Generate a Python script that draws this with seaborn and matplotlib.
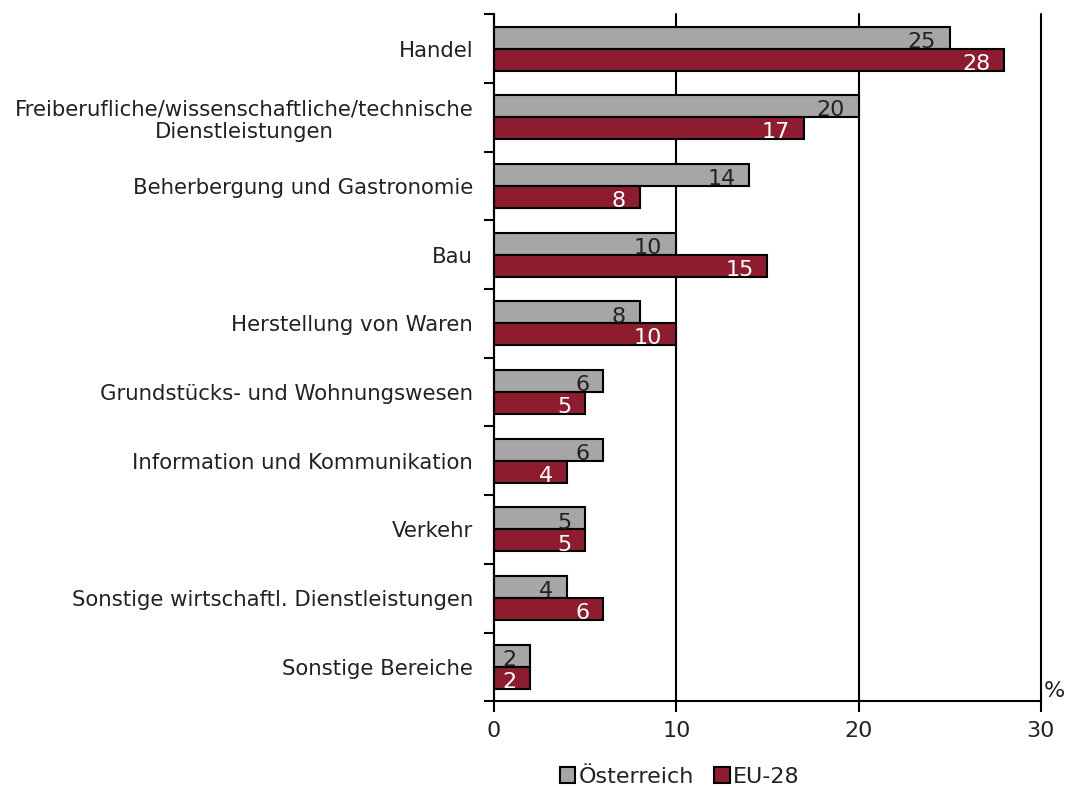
import matplotlib
matplotlib.use("Agg")
import matplotlib.pyplot as plt
import pandas as pd
import seaborn as sns

categories = [
    "Handel",
    "Freiberufliche/wissenschaftliche/technische\nDienstleistungen",
    "Beherbergung und Gastronomie",
    "Bau",
    "Herstellung von Waren",
    "Grundstücks- und Wohnungswesen",
    "Information und Kommunikation",
    "Verkehr",
    "Sonstige wirtschaftl. Dienstleistungen",
    "Sonstige Bereiche",
]
oesterreich = [25, 20, 14, 10, 8, 6, 6, 5, 4, 2]
eu28 = [28, 17, 8, 15, 10, 5, 4, 5, 6, 2]
series = ["Österreich", "EU-28"]
x_ticks = [0, 10, 20, 30]

df = pd.DataFrame({
    "Bereich": categories * 2,
    "Anteil": oesterreich + eu28,
    "Land": [series[0]] * len(categories) + [series[1]] * len(categories),
})

sns.set_style("white")
plt.rcParams["font.family"] = ["DejaVu Sans"]
text_col = "#222222"

fig = plt.figure(figsize=(10.67, 7.87), dpi=100)
ax = fig.add_axes([0.463, 0.109, 0.5125, 0.873])

palette = {"Österreich": "#A6A6A6", "EU-28": "#8C1C2E"}
sns.barplot(data=df, y="Bereich", x="Anteil", hue="Land", palette=palette,
            orient="h", width=0.64, edgecolor="black", linewidth=1.5,
            saturation=1, ax=ax, legend=True)

# value labels inside bar ends
for cont, col in zip(ax.containers, [text_col, "white"]):
    for bar in cont:
        w = bar.get_width()
        y = bar.get_y() + bar.get_height() / 2
        ax.annotate(f"{w:g}", (w, y), xytext=(-10, -3), textcoords="offset points",
                    ha="right", va="center", fontsize=16, color=col)

ax.set_xlim(0, 30)
ax.set_ylim(len(categories) - 0.5, -0.5)
ax.set_xticks(x_ticks)
ax.set_xticklabels([str(t) for t in x_ticks])
ax.set_xlabel("")
ax.set_ylabel("")
ax.grid(axis="x", color="black", linewidth=1.5)
for gl in ax.get_xgridlines():
    gl.set_clip_on(False)
ax.set_axisbelow(True)
for side in ["top", "right"]:
    ax.spines[side].set_visible(False)
for side in ["left", "bottom"]:
    ax.spines[side].set_color("black")
    ax.spines[side].set_linewidth(1.5)

# category ticks between the groups, labels centred on groups
ax.set_yticks([i + 0.5 for i in range(-1, len(categories))], minor=False)
ax.set_yticklabels([])
ax.set_yticks(range(len(categories)), minor=True)
ax.set_yticklabels(categories, minor=True, fontsize=15.3, color=text_col,
                   ha="right", multialignment="center")
ax.tick_params(axis="y", which="major", left=True, length=7, width=1.5, color="black")
ax.tick_params(axis="y", which="minor", left=False, length=0, pad=15)
ax.tick_params(axis="x", bottom=True, length=8, width=1.5, color="black",
               labelsize=16, labelcolor=text_col, pad=6)

ax.text(1.005, 0.0, "%", transform=ax.transAxes, fontsize=16, color=text_col,
        ha="left", va="bottom")

handles, labels = ax.get_legend_handles_labels()
ax.legend_.remove()
fig.legend(handles, labels, loc="lower center", bbox_to_anchor=(0.637, -0.025),
           ncol=2, frameon=False, fontsize=16, handlelength=0.7, handleheight=0.7,
           handletextpad=0.15, columnspacing=0.9, labelcolor=text_col)

fig.savefig("out.png", dpi=100)
